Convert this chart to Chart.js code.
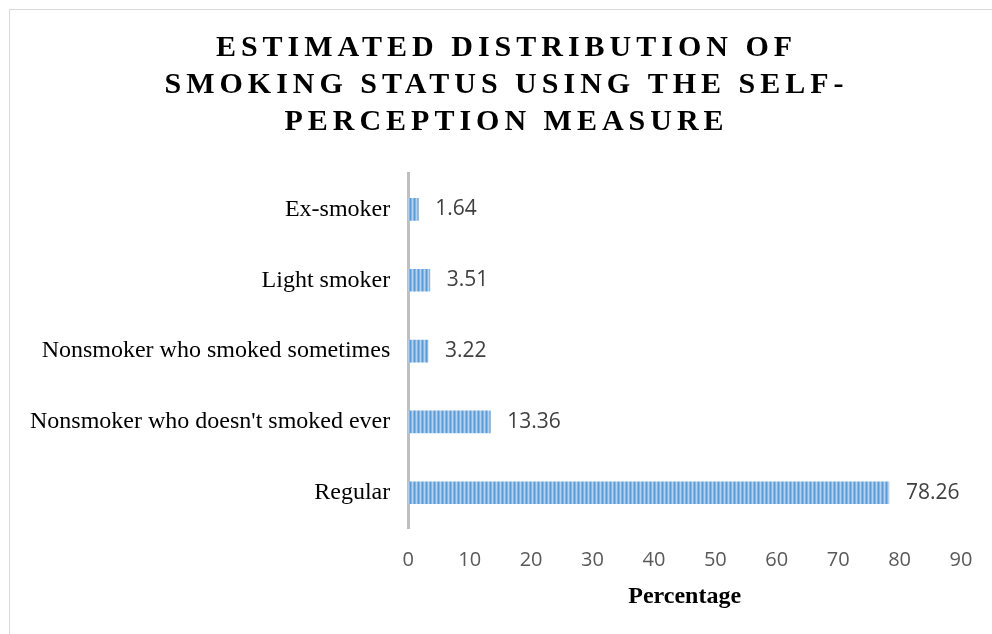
<!DOCTYPE html>
<html>
<head>
<meta charset="utf-8">
<script src="https://cdn.jsdelivr.net/npm/chart.js@4/dist/chart.umd.min.js"></script>
<style>
  html, body { margin: 0; padding: 0; background: #fff; overflow: hidden; }
  #frame {
    position: absolute; left: 9px; top: 9px;
    width: 1005px; height: 640px;
    border: 1px solid #d9d9d9; background: #fff;
  }
  #frame canvas { display: block; }
</style>
</head>
<body>
<div id="frame"><canvas id="chart" width="1005" height="640"></canvas></div>
<script>
// Smoking status categories, listed top to bottom
const categories = [
  'Ex-smoker',
  'Light smoker',
  'Nonsmoker who smoked sometimes',
  "Nonsmoker who doesn't smoked ever",
  'Regular'
];
// Percentage of respondents in each category
const percentages = [1.64, 3.51, 3.22, 13.36, 78.26];
// Percentage axis
const axisMin = 0;
const axisMax = 90;
const axisStep = 10;
const titleLines = [
  'ESTIMATED DISTRIBUTION OF',
  'SMOKING STATUS USING THE SELF-',
  'PERCEPTION MEASURE'
];

// Vertical striped fill for the bars
function stripePattern() {
  const tile = document.createElement('canvas');
  tile.width = 4; tile.height = 4;
  const t = tile.getContext('2d');
  const cols = ['#5b9bd5', '#86b6e4', '#b5d3f0', '#86b6e4'];
  cols.forEach((c, i) => { t.fillStyle = c; t.fillRect(i, 0, 1, 4); });
  return t.createPattern(tile, 'repeat');
}

const ctx = document.getElementById('chart').getContext('2d');

// Letter-spaced title drawing
const spacedTitle = {
  id: 'spacedTitle',
  beforeDraw(chart) {
    const tb = chart.titleBlock;
    if (tb && !tb._spaced) {
      const orig = tb.draw.bind(tb);
      tb.draw = function () {
        const c = chart.ctx;
        c.save();
        c.letterSpacing = '5px';
        c.translate(20, 0);
        orig();
        c.restore();
      };
      tb._spaced = true;
    }
  }
};

// Value labels to the right of each bar
const valueLabels = {
  id: 'valueLabels',
  afterDatasetsDraw(chart) {
    const c = chart.ctx;
    const meta = chart.getDatasetMeta(0);
    c.save();
    c.font = '21px "Open Sans", sans-serif';
    c.fillStyle = '#404040';
    c.textAlign = 'left';
    c.textBaseline = 'middle';
    meta.data.forEach((bar, i) => {
      c.fillText(percentages[i].toFixed(2), bar.x + 17, bar.y);
    });
    c.restore();
  }
};

new Chart(ctx, {
  type: 'bar',
  data: {
    labels: categories,
    datasets: [{
      data: percentages,
      backgroundColor: stripePattern(),
      borderWidth: 0,
      barThickness: 22
    }]
  },
  options: {
    indexAxis: 'y',
    responsive: false,
    animation: false,
    layout: { padding: { left: 2, right: 54, top: 0, bottom: 39 } },
    plugins: {
      legend: { display: false },
      tooltip: { enabled: false },
      title: {
        display: true,
        text: titleLines,
        color: '#000',
        font: { family: '"Liberation Serif", "Times New Roman", serif', size: 30, weight: 'bold', lineHeight: 1.233 },
        padding: { top: 20, bottom: 33 }
      }
    },
    scales: {
      x: {
        min: axisMin,
        max: axisMax,
        ticks: {
          stepSize: axisStep,
          color: '#595959',
          font: { family: '"Open Sans", sans-serif', size: 20, lineHeight: 1 },
          padding: 22
        },
        grid: { display: false, drawTicks: false },
        border: { display: false },
        title: {
          display: true,
          text: 'Percentage',
          color: '#000',
          font: { family: '"Liberation Serif", "Times New Roman", serif', size: 24, weight: 'bold' },
          padding: { top: -10, bottom: 0 }
        }
      },
      y: {
        ticks: {
          color: '#000',
          font: { family: '"Liberation Serif", "Times New Roman", serif', size: 24 },
          padding: 18
        },
        grid: { display: false, drawTicks: false },
        border: { display: true, color: '#bfbfbf', width: 3 }
      }
    }
  },
  plugins: [spacedTitle, valueLabels]
});
</script>
</body>
</html>
